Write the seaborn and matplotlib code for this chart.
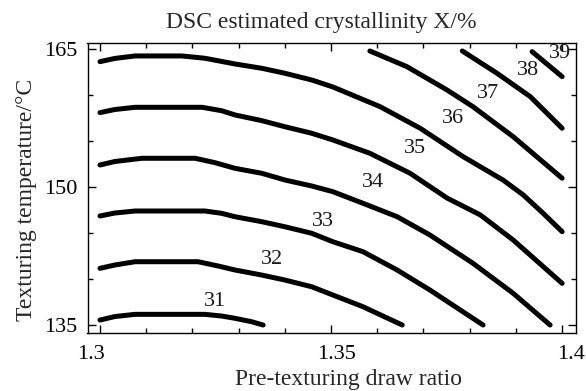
import numpy as np
import pandas as pd
import matplotlib
matplotlib.use("Agg")
import matplotlib.pyplot as plt
from matplotlib.ticker import MultipleLocator
from matplotlib.transforms import ScaledTranslation
import seaborn as sns

# ---- data (contour lines of crystallinity X/%) ----
levels = [31, 32, 33, 34, 35, 36, 37, 38, 39]

c31_x = [1.3000, 1.3032, 1.3076, 1.3227, 1.3263, 1.3292, 1.3328, 1.3353]
c31_y = [135.54, 135.92, 136.16, 136.16, 135.98, 135.73, 135.36, 135.00]

c32_x = [1.3000, 1.3032, 1.3076, 1.3212, 1.3256, 1.3292, 1.3350, 1.3400, 1.3458, 1.3504, 1.3569, 1.3654]
c32_y = [141.16, 141.52, 141.88, 141.88, 141.41, 140.98, 140.43, 139.89, 139.16, 138.26, 136.99, 135.00]

c33_x = [1.3000, 1.3032, 1.3076, 1.3227, 1.3263, 1.3292, 1.3350, 1.3400, 1.3458, 1.3504, 1.3569, 1.3643, 1.3714, 1.3829]
c33_y = [146.85, 147.17, 147.39, 147.39, 147.14, 146.77, 146.23, 145.68, 144.97, 144.05, 142.97, 140.98, 138.80, 135.00]

c34_x = [1.3000, 1.3032, 1.3091, 1.3206, 1.3249, 1.3292, 1.3350, 1.3400, 1.3458, 1.3504, 1.3569, 1.3643, 1.3714, 1.3807, 1.3894, 1.3974]
c34_y = [152.39, 152.77, 153.12, 153.12, 152.64, 152.03, 151.49, 150.76, 150.11, 149.49, 148.23, 146.77, 144.78, 141.71, 138.45, 135.00]

c35_x = [1.3000, 1.3032, 1.3076, 1.3221, 1.3263, 1.3292, 1.3350, 1.3400, 1.3458, 1.3504, 1.3584, 1.3671, 1.3751, 1.3823, 1.3894, 1.4000]
c35_y = [158.08, 158.42, 158.66, 158.66, 158.29, 157.83, 157.21, 156.55, 155.84, 155.11, 153.66, 151.49, 148.80, 146.96, 144.24, 139.53]

c36_x = [1.3000, 1.3032, 1.3076, 1.3177, 1.3227, 1.3292, 1.3350, 1.3400, 1.3458, 1.3504, 1.3606, 1.3693, 1.3786, 1.3872, 1.3916, 1.3959, 1.4000]
c36_y = [163.62, 163.97, 164.24, 164.24, 163.99, 163.37, 162.90, 162.36, 161.63, 160.87, 158.73, 156.38, 153.29, 150.76, 149.13, 147.14, 145.14]

c37_x = [1.3584, 1.3664, 1.3751, 1.3807, 1.3894, 1.4000]
c37_y = [164.78, 163.08, 160.54, 158.73, 155.47, 150.95]

c38_x = [1.3784, 1.3859, 1.3931, 1.4000]
c38_y = [164.78, 162.36, 159.82, 156.38]

c39_x = [1.3935, 1.4000]
c39_y = [164.71, 161.99]

# contour label anchor points
label_x = [1.3249, 1.3372, 1.3483, 1.3591, 1.3682, 1.3764, 1.3840, 1.3926, 1.3996]
label_y = [137.53, 142.07, 146.23, 150.47, 154.21, 157.47, 160.18, 162.64, 164.53]

x_ticks = [1.3, 1.35, 1.4]
x_ticklabels = ["1.3", "1.35", "1.4"]
y_ticks = [135, 150, 165]
y_ticklabels = ["135", "150", "165"]

title = "DSC estimated crystallinity X/%"
xlabel = "Pre-texturing draw ratio"
ylabel = "Texturing temperature/\u00b0C"

# ---- build long table ----
xs = [c31_x, c32_x, c33_x, c34_x, c35_x, c36_x, c37_x, c38_x, c39_x]
ys = [c31_y, c32_y, c33_y, c34_y, c35_y, c36_y, c37_y, c38_y, c39_y]
frames = []
for lev, cx, cy in zip(levels, xs, ys):
    frames.append(pd.DataFrame({"level": lev, "ratio": cx, "temp": cy}))
df = pd.concat(frames, ignore_index=True)

sns.set_theme(style="ticks")
plt.rcParams["font.family"] = ["Liberation Serif", "DejaVu Serif"]
plt.rcParams["axes.linewidth"] = 1.0

W, H = 586, 391
fig = plt.figure(figsize=(W / 100, H / 100), dpi=100)
ax = fig.add_axes([87.5 / W, 1 - 333.3 / H, (576 - 87.5) / W, (333.3 - 42.7) / H])

sns.lineplot(data=df, x="ratio", y="temp", units="level", estimator=None,
             sort=False, color="black", linewidth=3.6, ax=ax, legend=False,
             solid_capstyle="round", solid_joinstyle="round")

FS_LAB = 17
FS_TICK = 16
for lev, lx, ly in zip(levels, label_x, label_y):
    ax.text(lx, ly, str(lev), ha="center", va="center", fontsize=FS_TICK, color="#1a1a1a")

ax.set_xlim(1.2973, 1.4030)
ax.set_ylim(134.1, 165.68)
ax.set_xticks(x_ticks)
ax.set_xticklabels(x_ticklabels)
ax.set_yticks(y_ticks)
ax.set_yticklabels(y_ticklabels)
ax.xaxis.set_minor_locator(MultipleLocator(0.01))
ax.yaxis.set_minor_locator(MultipleLocator(5))
ax.tick_params(which="both", direction="in", top=True, right=True,
               colors="black", labelsize=FS_TICK, width=1.0)
ax.tick_params(which="major", length=6)
ax.tick_params(which="minor", length=3.5)
ax.tick_params(axis="x", which="major", pad=8.5)
ax.tick_params(axis="y", which="major", pad=7.5)
for s in ax.spines.values():
    s.set_color("black")

# small horizontal shifts of x tick labels as in the reference
shifts = [-9, 5, 9]
for lab, dx in zip(ax.get_xticklabels(), shifts):
    lab.set_transform(lab.get_transform() + ScaledTranslation(dx / 100, 0, fig.dpi_scale_trans))

ax.set_xlabel("")
ax.set_ylabel("")
fig.text(348.5 / W, 1 - 385 / H, xlabel, ha="center", va="baseline", fontsize=FS_LAB)
fig.text(32 / W, 1 - 200 / H, ylabel, ha="center", va="baseline", rotation=90,
         rotation_mode="anchor", fontsize=FS_LAB)
fig.text(321.5 / W, 1 - 28.3 / H, title, ha="center", va="baseline", fontsize=FS_LAB)

fig.savefig("out.png", dpi=100)
